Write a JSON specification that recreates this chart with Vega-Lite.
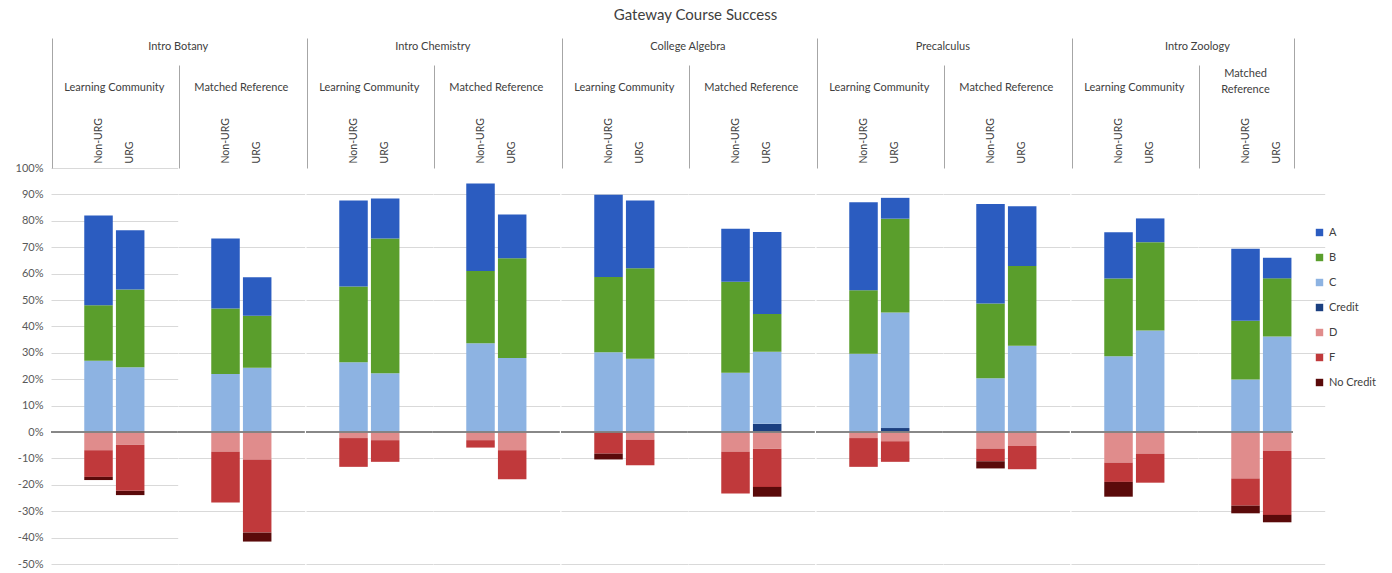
{
"$schema": "https://vega.github.io/schema/vega-lite/v6.json",
"padding": {"left": 15, "top": 7, "right": 5, "bottom": 5},
"title": {"text": "Gateway Course Success", "fontSize": 15, "frame": "bounds", "anchor": "middle", "color": "#404040", "offset": 15},
"data": {"values": [
{"course": "Intro Botany", "group": "Learning Community", "sub": "Non-URG", "Credit": 0, "C": 27, "B": 21, "A": 34, "D": -6.9, "F": -10.1, "No Credit": -1.2},
{"course": "Intro Botany", "group": "Learning Community", "sub": "URG", "Credit": 0, "C": 24.5, "B": 29.5, "A": 22.4, "D": -4.8, "F": -17.5, "No Credit": -1.6},
{"course": "Intro Botany", "group": "Matched Reference", "sub": "Non-URG", "Credit": 0, "C": 22, "B": 24.8, "A": 26.5, "D": -7.5, "F": -19.2, "No Credit": 0},
{"course": "Intro Botany", "group": "Matched Reference", "sub": "URG", "Credit": 0, "C": 24.3, "B": 19.7, "A": 14.6, "D": -10.4, "F": -27.7, "No Credit": -3.4},
{"course": "Intro Chemistry", "group": "Learning Community", "sub": "Non-URG", "Credit": 0, "C": 26.4, "B": 28.7, "A": 32.6, "D": -2.3, "F": -10.9, "No Credit": 0},
{"course": "Intro Chemistry", "group": "Learning Community", "sub": "URG", "Credit": 0, "C": 22.3, "B": 51, "A": 15.1, "D": -3.1, "F": -8.2, "No Credit": 0},
{"course": "Intro Chemistry", "group": "Matched Reference", "sub": "Non-URG", "Credit": 0, "C": 33.6, "B": 27.4, "A": 33.1, "D": -3.1, "F": -2.8, "No Credit": 0},
{"course": "Intro Chemistry", "group": "Matched Reference", "sub": "URG", "Credit": 0, "C": 28, "B": 37.8, "A": 16.6, "D": -6.9, "F": -11, "No Credit": 0},
{"course": "College Algebra", "group": "Learning Community", "sub": "Non-URG", "Credit": 0, "C": 30.2, "B": 28.5, "A": 31.2, "D": 0, "F": -8.2, "No Credit": -2.2},
{"course": "College Algebra", "group": "Learning Community", "sub": "URG", "Credit": 0, "C": 27.7, "B": 34.3, "A": 25.7, "D": -2.9, "F": -9.7, "No Credit": 0},
{"course": "College Algebra", "group": "Matched Reference", "sub": "Non-URG", "Credit": 0, "C": 22.4, "B": 34.5, "A": 20.1, "D": -7.5, "F": -15.8, "No Credit": 0},
{"course": "College Algebra", "group": "Matched Reference", "sub": "URG", "Credit": 3.1, "C": 27.3, "B": 14.3, "A": 31.1, "D": -6.3, "F": -14.5, "No Credit": -3.7},
{"course": "Precalculus", "group": "Learning Community", "sub": "Non-URG", "Credit": 0, "C": 29.6, "B": 24.1, "A": 33.3, "D": -2.3, "F": -10.9, "No Credit": 0},
{"course": "Precalculus", "group": "Learning Community", "sub": "URG", "Credit": 1.5, "C": 43.8, "B": 35.5, "A": 7.9, "D": -3.5, "F": -7.8, "No Credit": 0},
{"course": "Precalculus", "group": "Matched Reference", "sub": "Non-URG", "Credit": 0, "C": 20.4, "B": 28.3, "A": 37.7, "D": -6.3, "F": -4.8, "No Credit": -2.7},
{"course": "Precalculus", "group": "Matched Reference", "sub": "URG", "Credit": 0, "C": 32.7, "B": 30.2, "A": 22.6, "D": -5.3, "F": -8.8, "No Credit": 0},
{"course": "Intro Zoology", "group": "Learning Community", "sub": "Non-URG", "Credit": 0, "C": 28.7, "B": 29.4, "A": 17.6, "D": -11.6, "F": -7.3, "No Credit": -5.6},
{"course": "Intro Zoology", "group": "Learning Community", "sub": "URG", "Credit": 0, "C": 38.4, "B": 33.5, "A": 9, "D": -8.2, "F": -11, "No Credit": 0},
{"course": "Intro Zoology", "group": "Matched Reference", "sub": "Non-URG", "Credit": 0, "C": 19.9, "B": 22.2, "A": 27.3, "D": -17.6, "F": -10.3, "No Credit": -2.9},
{"course": "Intro Zoology", "group": "Matched Reference", "sub": "URG", "Credit": 0, "C": 36.2, "B": 22, "A": 7.8, "D": -7.2, "F": -24.2, "No Credit": -2.8}
]},
"spacing": -2.75,
"hconcat": [
{"title": {"text": "Intro Botany", "offset": -14, "anchor": "middle", "frame": "bounds", "dx": 18}, "spacing": 0, "bounds": "flush", "hconcat": [
 {"width": 126.7, "height": 396, "title": {"text": "Learning Community", "offset": -55},
  "transform": [{"filter": {"and": [{"field": "course", "equal": "Intro Botany"}, {"field": "group", "equal": "Learning Community"}]}}],
  "layer": [
   {"transform": [{"fold": ["Credit", "C", "B", "A"], "as": ["grade", "value"]}], "mark": "bar",
    "encoding": {
     "x": {"field": "sub", "type": "nominal", "scale": {"domain": ["s1", "Non-URG", "URG", "s2"], "paddingInner": 0.1, "paddingOuter": 0.05},
       "axis": {"orient": "top", "values": ["s1", "Non-URG", "URG"], "bandPosition": 0, "labelPadding": -125, "tickSize": 130, "tickOpacity": {"condition": {"test": "datum.value == 's1' || datum.value == 's2'", "value": 1}, "value": 0}}},
     "y": {"field": "value", "type": "quantitative", "stack": "zero", "scale": {"domain": [-50, 100], "nice": false}, "axis": {"labels": true, "labelOverlap": false, "values": [-50, -40, -30, -20, -10, 0, 10, 20, 30, 40, 50, 60, 70, 80, 90, 100]}},
     "color": {"field": "grade", "type": "nominal", "scale": {"domain": ["A", "B", "C", "Credit", "D", "F", "No Credit"], "range": ["#2B5CC0", "#5A9E2C", "#8DB3E2", "#1B3F80", "#E08C8C", "#C0393B", "#5A0A0A"]}},
     "order": {"field": "grade", "sort": "descending"}}},
   {"transform": [{"fold": ["D", "F", "No Credit"], "as": ["grade", "value"]}], "mark": "bar",
    "encoding": {
     "x": {"field": "sub", "type": "nominal"},
     "y": {"field": "value", "type": "quantitative", "stack": "zero", "axis": {"labels": true, "labelOverlap": false, "values": [-50, -40, -30, -20, -10, 0, 10, 20, 30, 40, 50, 60, 70, 80, 90, 100]}},
     "color": {"field": "grade", "type": "nominal"},
     "order": {"field": "grade", "sort": "ascending"}}},
   {"mark": {"type": "rule", "color": "#808080", "strokeWidth": 1.5}, "encoding": {"y": {"datum": 0, "type": "quantitative", "axis": {"labels": true, "labelOverlap": false, "values": [-50, -40, -30, -20, -10, 0, 10, 20, 30, 40, 50, 60, 70, 80, 90, 100]}}}}
  ]},
 {"width": 126.7, "height": 396, "title": {"text": "Matched Reference", "offset": -28},
  "transform": [{"filter": {"and": [{"field": "course", "equal": "Intro Botany"}, {"field": "group", "equal": "Matched Reference"}]}}],
  "layer": [
   {"transform": [{"fold": ["Credit", "C", "B", "A"], "as": ["grade", "value"]}], "mark": "bar",
    "encoding": {
     "x": {"field": "sub", "type": "nominal", "scale": {"domain": ["s1", "Non-URG", "URG", "s2"], "paddingInner": 0.1, "paddingOuter": 0.05},
       "axis": {"orient": "top", "values": ["s1", "Non-URG", "URG"], "bandPosition": 0, "labelPadding": -98, "tickSize": 103, "tickOpacity": {"condition": {"test": "datum.value == 's1' || datum.value == 's2'", "value": 1}, "value": 0}}},
     "y": {"field": "value", "type": "quantitative", "stack": "zero", "scale": {"domain": [-50, 100], "nice": false}, "axis": {"values": [-50, -40, -30, -20, -10, 0, 10, 20, 30, 40, 50, 60, 70, 80, 90, 100]}},
     "color": {"field": "grade", "type": "nominal", "scale": {"domain": ["A", "B", "C", "Credit", "D", "F", "No Credit"], "range": ["#2B5CC0", "#5A9E2C", "#8DB3E2", "#1B3F80", "#E08C8C", "#C0393B", "#5A0A0A"]}},
     "order": {"field": "grade", "sort": "descending"}}},
   {"transform": [{"fold": ["D", "F", "No Credit"], "as": ["grade", "value"]}], "mark": "bar",
    "encoding": {
     "x": {"field": "sub", "type": "nominal"},
     "y": {"field": "value", "type": "quantitative", "stack": "zero"},
     "color": {"field": "grade", "type": "nominal"},
     "order": {"field": "grade", "sort": "ascending"}}},
   {"mark": {"type": "rule", "color": "#808080", "strokeWidth": 1.5}, "encoding": {"y": {"datum": 0, "type": "quantitative"}}}
  ]}
]},
{"title": {"text": "Intro Chemistry", "offset": -14, "anchor": "middle", "frame": "bounds"}, "spacing": 0, "bounds": "flush", "hconcat": [
 {"width": 126.7, "height": 396, "title": {"text": "Learning Community", "offset": -55},
  "transform": [{"filter": {"and": [{"field": "course", "equal": "Intro Chemistry"}, {"field": "group", "equal": "Learning Community"}]}}],
  "layer": [
   {"transform": [{"fold": ["Credit", "C", "B", "A"], "as": ["grade", "value"]}], "mark": "bar",
    "encoding": {
     "x": {"field": "sub", "type": "nominal", "scale": {"domain": ["s1", "Non-URG", "URG", "s2"], "paddingInner": 0.1, "paddingOuter": 0.05},
       "axis": {"orient": "top", "values": ["s1", "Non-URG", "URG"], "bandPosition": 0, "labelPadding": -125, "tickSize": 130, "tickOpacity": {"condition": {"test": "datum.value == 's1' || datum.value == 's2'", "value": 1}, "value": 0}}},
     "y": {"field": "value", "type": "quantitative", "stack": "zero", "scale": {"domain": [-50, 100], "nice": false}, "axis": {"values": [-50, -40, -30, -20, -10, 0, 10, 20, 30, 40, 50, 60, 70, 80, 90, 100]}},
     "color": {"field": "grade", "type": "nominal", "scale": {"domain": ["A", "B", "C", "Credit", "D", "F", "No Credit"], "range": ["#2B5CC0", "#5A9E2C", "#8DB3E2", "#1B3F80", "#E08C8C", "#C0393B", "#5A0A0A"]}},
     "order": {"field": "grade", "sort": "descending"}}},
   {"transform": [{"fold": ["D", "F", "No Credit"], "as": ["grade", "value"]}], "mark": "bar",
    "encoding": {
     "x": {"field": "sub", "type": "nominal"},
     "y": {"field": "value", "type": "quantitative", "stack": "zero"},
     "color": {"field": "grade", "type": "nominal"},
     "order": {"field": "grade", "sort": "ascending"}}},
   {"mark": {"type": "rule", "color": "#808080", "strokeWidth": 1.5}, "encoding": {"y": {"datum": 0, "type": "quantitative"}}}
  ]},
 {"width": 126.7, "height": 396, "title": {"text": "Matched Reference", "offset": -28},
  "transform": [{"filter": {"and": [{"field": "course", "equal": "Intro Chemistry"}, {"field": "group", "equal": "Matched Reference"}]}}],
  "layer": [
   {"transform": [{"fold": ["Credit", "C", "B", "A"], "as": ["grade", "value"]}], "mark": "bar",
    "encoding": {
     "x": {"field": "sub", "type": "nominal", "scale": {"domain": ["s1", "Non-URG", "URG", "s2"], "paddingInner": 0.1, "paddingOuter": 0.05},
       "axis": {"orient": "top", "values": ["s1", "Non-URG", "URG"], "bandPosition": 0, "labelPadding": -98, "tickSize": 103, "tickOpacity": {"condition": {"test": "datum.value == 's1' || datum.value == 's2'", "value": 1}, "value": 0}}},
     "y": {"field": "value", "type": "quantitative", "stack": "zero", "scale": {"domain": [-50, 100], "nice": false}, "axis": {"values": [-50, -40, -30, -20, -10, 0, 10, 20, 30, 40, 50, 60, 70, 80, 90, 100]}},
     "color": {"field": "grade", "type": "nominal", "scale": {"domain": ["A", "B", "C", "Credit", "D", "F", "No Credit"], "range": ["#2B5CC0", "#5A9E2C", "#8DB3E2", "#1B3F80", "#E08C8C", "#C0393B", "#5A0A0A"]}},
     "order": {"field": "grade", "sort": "descending"}}},
   {"transform": [{"fold": ["D", "F", "No Credit"], "as": ["grade", "value"]}], "mark": "bar",
    "encoding": {
     "x": {"field": "sub", "type": "nominal"},
     "y": {"field": "value", "type": "quantitative", "stack": "zero"},
     "color": {"field": "grade", "type": "nominal"},
     "order": {"field": "grade", "sort": "ascending"}}},
   {"mark": {"type": "rule", "color": "#808080", "strokeWidth": 1.5}, "encoding": {"y": {"datum": 0, "type": "quantitative"}}}
  ]}
]},
{"title": {"text": "College Algebra", "offset": -14, "anchor": "middle", "frame": "bounds"}, "spacing": 0, "bounds": "flush", "hconcat": [
 {"width": 126.7, "height": 396, "title": {"text": "Learning Community", "offset": -55},
  "transform": [{"filter": {"and": [{"field": "course", "equal": "College Algebra"}, {"field": "group", "equal": "Learning Community"}]}}],
  "layer": [
   {"transform": [{"fold": ["Credit", "C", "B", "A"], "as": ["grade", "value"]}], "mark": "bar",
    "encoding": {
     "x": {"field": "sub", "type": "nominal", "scale": {"domain": ["s1", "Non-URG", "URG", "s2"], "paddingInner": 0.1, "paddingOuter": 0.05},
       "axis": {"orient": "top", "values": ["s1", "Non-URG", "URG"], "bandPosition": 0, "labelPadding": -125, "tickSize": 130, "tickOpacity": {"condition": {"test": "datum.value == 's1' || datum.value == 's2'", "value": 1}, "value": 0}}},
     "y": {"field": "value", "type": "quantitative", "stack": "zero", "scale": {"domain": [-50, 100], "nice": false}, "axis": {"values": [-50, -40, -30, -20, -10, 0, 10, 20, 30, 40, 50, 60, 70, 80, 90, 100]}},
     "color": {"field": "grade", "type": "nominal", "scale": {"domain": ["A", "B", "C", "Credit", "D", "F", "No Credit"], "range": ["#2B5CC0", "#5A9E2C", "#8DB3E2", "#1B3F80", "#E08C8C", "#C0393B", "#5A0A0A"]}},
     "order": {"field": "grade", "sort": "descending"}}},
   {"transform": [{"fold": ["D", "F", "No Credit"], "as": ["grade", "value"]}], "mark": "bar",
    "encoding": {
     "x": {"field": "sub", "type": "nominal"},
     "y": {"field": "value", "type": "quantitative", "stack": "zero"},
     "color": {"field": "grade", "type": "nominal"},
     "order": {"field": "grade", "sort": "ascending"}}},
   {"mark": {"type": "rule", "color": "#808080", "strokeWidth": 1.5}, "encoding": {"y": {"datum": 0, "type": "quantitative"}}}
  ]},
 {"width": 126.7, "height": 396, "title": {"text": "Matched Reference", "offset": -28},
  "transform": [{"filter": {"and": [{"field": "course", "equal": "College Algebra"}, {"field": "group", "equal": "Matched Reference"}]}}],
  "layer": [
   {"transform": [{"fold": ["Credit", "C", "B", "A"], "as": ["grade", "value"]}], "mark": "bar",
    "encoding": {
     "x": {"field": "sub", "type": "nominal", "scale": {"domain": ["s1", "Non-URG", "URG", "s2"], "paddingInner": 0.1, "paddingOuter": 0.05},
       "axis": {"orient": "top", "values": ["s1", "Non-URG", "URG"], "bandPosition": 0, "labelPadding": -98, "tickSize": 103, "tickOpacity": {"condition": {"test": "datum.value == 's1' || datum.value == 's2'", "value": 1}, "value": 0}}},
     "y": {"field": "value", "type": "quantitative", "stack": "zero", "scale": {"domain": [-50, 100], "nice": false}, "axis": {"values": [-50, -40, -30, -20, -10, 0, 10, 20, 30, 40, 50, 60, 70, 80, 90, 100]}},
     "color": {"field": "grade", "type": "nominal", "scale": {"domain": ["A", "B", "C", "Credit", "D", "F", "No Credit"], "range": ["#2B5CC0", "#5A9E2C", "#8DB3E2", "#1B3F80", "#E08C8C", "#C0393B", "#5A0A0A"]}},
     "order": {"field": "grade", "sort": "descending"}}},
   {"transform": [{"fold": ["D", "F", "No Credit"], "as": ["grade", "value"]}], "mark": "bar",
    "encoding": {
     "x": {"field": "sub", "type": "nominal"},
     "y": {"field": "value", "type": "quantitative", "stack": "zero"},
     "color": {"field": "grade", "type": "nominal"},
     "order": {"field": "grade", "sort": "ascending"}}},
   {"mark": {"type": "rule", "color": "#808080", "strokeWidth": 1.5}, "encoding": {"y": {"datum": 0, "type": "quantitative"}}}
  ]}
]},
{"title": {"text": "Precalculus", "offset": -14, "anchor": "middle", "frame": "bounds"}, "spacing": 0, "bounds": "flush", "hconcat": [
 {"width": 126.7, "height": 396, "title": {"text": "Learning Community", "offset": -55},
  "transform": [{"filter": {"and": [{"field": "course", "equal": "Precalculus"}, {"field": "group", "equal": "Learning Community"}]}}],
  "layer": [
   {"transform": [{"fold": ["Credit", "C", "B", "A"], "as": ["grade", "value"]}], "mark": "bar",
    "encoding": {
     "x": {"field": "sub", "type": "nominal", "scale": {"domain": ["s1", "Non-URG", "URG", "s2"], "paddingInner": 0.1, "paddingOuter": 0.05},
       "axis": {"orient": "top", "values": ["s1", "Non-URG", "URG"], "bandPosition": 0, "labelPadding": -125, "tickSize": 130, "tickOpacity": {"condition": {"test": "datum.value == 's1' || datum.value == 's2'", "value": 1}, "value": 0}}},
     "y": {"field": "value", "type": "quantitative", "stack": "zero", "scale": {"domain": [-50, 100], "nice": false}, "axis": {"values": [-50, -40, -30, -20, -10, 0, 10, 20, 30, 40, 50, 60, 70, 80, 90, 100]}},
     "color": {"field": "grade", "type": "nominal", "scale": {"domain": ["A", "B", "C", "Credit", "D", "F", "No Credit"], "range": ["#2B5CC0", "#5A9E2C", "#8DB3E2", "#1B3F80", "#E08C8C", "#C0393B", "#5A0A0A"]}},
     "order": {"field": "grade", "sort": "descending"}}},
   {"transform": [{"fold": ["D", "F", "No Credit"], "as": ["grade", "value"]}], "mark": "bar",
    "encoding": {
     "x": {"field": "sub", "type": "nominal"},
     "y": {"field": "value", "type": "quantitative", "stack": "zero"},
     "color": {"field": "grade", "type": "nominal"},
     "order": {"field": "grade", "sort": "ascending"}}},
   {"mark": {"type": "rule", "color": "#808080", "strokeWidth": 1.5}, "encoding": {"y": {"datum": 0, "type": "quantitative"}}}
  ]},
 {"width": 126.7, "height": 396, "title": {"text": "Matched Reference", "offset": -28},
  "transform": [{"filter": {"and": [{"field": "course", "equal": "Precalculus"}, {"field": "group", "equal": "Matched Reference"}]}}],
  "layer": [
   {"transform": [{"fold": ["Credit", "C", "B", "A"], "as": ["grade", "value"]}], "mark": "bar",
    "encoding": {
     "x": {"field": "sub", "type": "nominal", "scale": {"domain": ["s1", "Non-URG", "URG", "s2"], "paddingInner": 0.1, "paddingOuter": 0.05},
       "axis": {"orient": "top", "values": ["s1", "Non-URG", "URG"], "bandPosition": 0, "labelPadding": -98, "tickSize": 103, "tickOpacity": {"condition": {"test": "datum.value == 's1' || datum.value == 's2'", "value": 1}, "value": 0}}},
     "y": {"field": "value", "type": "quantitative", "stack": "zero", "scale": {"domain": [-50, 100], "nice": false}, "axis": {"values": [-50, -40, -30, -20, -10, 0, 10, 20, 30, 40, 50, 60, 70, 80, 90, 100]}},
     "color": {"field": "grade", "type": "nominal", "scale": {"domain": ["A", "B", "C", "Credit", "D", "F", "No Credit"], "range": ["#2B5CC0", "#5A9E2C", "#8DB3E2", "#1B3F80", "#E08C8C", "#C0393B", "#5A0A0A"]}},
     "order": {"field": "grade", "sort": "descending"}}},
   {"transform": [{"fold": ["D", "F", "No Credit"], "as": ["grade", "value"]}], "mark": "bar",
    "encoding": {
     "x": {"field": "sub", "type": "nominal"},
     "y": {"field": "value", "type": "quantitative", "stack": "zero"},
     "color": {"field": "grade", "type": "nominal"},
     "order": {"field": "grade", "sort": "ascending"}}},
   {"mark": {"type": "rule", "color": "#808080", "strokeWidth": 1.5}, "encoding": {"y": {"datum": 0, "type": "quantitative"}}}
  ]}
]},
{"title": {"text": "Intro Zoology", "offset": -14, "anchor": "middle", "frame": "bounds"}, "spacing": 0, "bounds": "flush", "hconcat": [
 {"width": 126.7, "height": 396, "title": {"text": "Learning Community", "offset": -55},
  "transform": [{"filter": {"and": [{"field": "course", "equal": "Intro Zoology"}, {"field": "group", "equal": "Learning Community"}]}}],
  "layer": [
   {"transform": [{"fold": ["Credit", "C", "B", "A"], "as": ["grade", "value"]}], "mark": "bar",
    "encoding": {
     "x": {"field": "sub", "type": "nominal", "scale": {"domain": ["s1", "Non-URG", "URG", "s2"], "paddingInner": 0.1, "paddingOuter": 0.05},
       "axis": {"orient": "top", "values": ["s1", "Non-URG", "URG"], "bandPosition": 0, "labelPadding": -125, "tickSize": 130, "tickOpacity": {"condition": {"test": "datum.value == 's1' || datum.value == 's2'", "value": 1}, "value": 0}}},
     "y": {"field": "value", "type": "quantitative", "stack": "zero", "scale": {"domain": [-50, 100], "nice": false}, "axis": {"values": [-50, -40, -30, -20, -10, 0, 10, 20, 30, 40, 50, 60, 70, 80, 90, 100]}},
     "color": {"field": "grade", "type": "nominal", "scale": {"domain": ["A", "B", "C", "Credit", "D", "F", "No Credit"], "range": ["#2B5CC0", "#5A9E2C", "#8DB3E2", "#1B3F80", "#E08C8C", "#C0393B", "#5A0A0A"]}},
     "order": {"field": "grade", "sort": "descending"}}},
   {"transform": [{"fold": ["D", "F", "No Credit"], "as": ["grade", "value"]}], "mark": "bar",
    "encoding": {
     "x": {"field": "sub", "type": "nominal"},
     "y": {"field": "value", "type": "quantitative", "stack": "zero"},
     "color": {"field": "grade", "type": "nominal"},
     "order": {"field": "grade", "sort": "ascending"}}},
   {"mark": {"type": "rule", "color": "#808080", "strokeWidth": 1.5}, "encoding": {"y": {"datum": 0, "type": "quantitative"}}}
  ]},
 {"width": 95, "height": 396, "title": {"text": ["Matched", "Reference"], "offset": -57, "lineHeight": 16},
  "transform": [{"filter": {"and": [{"field": "course", "equal": "Intro Zoology"}, {"field": "group", "equal": "Matched Reference"}]}}],
  "layer": [
   {"transform": [{"fold": ["Credit", "C", "B", "A"], "as": ["grade", "value"]}], "mark": "bar",
    "encoding": {
     "x": {"field": "sub", "type": "nominal", "scale": {"domain": ["s1", "Non-URG", "URG", "s2"], "range": [0, 126.7], "paddingInner": 0.1, "paddingOuter": 0.05},
       "axis": {"orient": "top", "values": ["s1", "Non-URG", "URG", "s2"], "bandPosition": 0, "labelPadding": -98, "tickSize": {"condition": {"test": "datum.value == 's2'", "value": 130}, "value": 103}, "tickOpacity": {"condition": {"test": "datum.value == 's1' || datum.value == 's2'", "value": 1}, "value": 0}}},
     "y": {"field": "value", "type": "quantitative", "stack": "zero", "scale": {"domain": [-50, 100], "nice": false}, "axis": {"values": [-50, -40, -30, -20, -10, 0, 10, 20, 30, 40, 50, 60, 70, 80, 90, 100]}},
     "color": {"field": "grade", "type": "nominal", "scale": {"domain": ["A", "B", "C", "Credit", "D", "F", "No Credit"], "range": ["#2B5CC0", "#5A9E2C", "#8DB3E2", "#1B3F80", "#E08C8C", "#C0393B", "#5A0A0A"]}},
     "order": {"field": "grade", "sort": "descending"}}},
   {"transform": [{"fold": ["D", "F", "No Credit"], "as": ["grade", "value"]}], "mark": "bar",
    "encoding": {
     "x": {"field": "sub", "type": "nominal"},
     "y": {"field": "value", "type": "quantitative", "stack": "zero"},
     "color": {"field": "grade", "type": "nominal"},
     "order": {"field": "grade", "sort": "ascending"}}},
   {"mark": {"type": "rule", "color": "#808080", "strokeWidth": 1.5}, "encoding": {"y": {"datum": 0, "type": "quantitative"}}}
  ]}
]}
],
"config": {
 "font": "Lato",
 "view": {"stroke": null},
 "axis": {"labelOverlap": false},
 "axisQuantitative": {"labelOverlap": false},
 "axisLeft": {"labelOverlap": false},
 "axisY": {"grid": true, "gridColor": "#d9d9d9", "gridWidth": 1, "domain": false, "ticks": false, "title": null, "labels": false, "labelOverlap": false, "labelFontSize": 11, "labelColor": "#595959", "labelPadding": 8, "labelExpr": "datum.value + '%'"},
 "axisX": {"domain": false, "grid": false, "title": null, "labelOffset": 0, "labelAngle": 270, "labelAlign": "left", "labelBaseline": "middle", "labelOverlap": false, "labelFontSize": 10.5, "labelColor": "#404040", "labelExpr": "datum.value == 'Non-URG' || datum.value == 'URG' ? datum.value : ''", "tickColor": "#a6a6a6"},
 "title": {"fontWeight": "normal", "fontSize": 11, "color": "#404040", "anchor": "middle", "frame": "group", "font": "Lato"},
 "legend": {"title": null, "orient": "none", "legendX": 1263, "legendY": 59, "symbolType": "square", "symbolSize": 55, "symbolStrokeWidth": 0, "labelFontSize": 11, "labelColor": "#404040", "rowPadding": 13}
}
}
